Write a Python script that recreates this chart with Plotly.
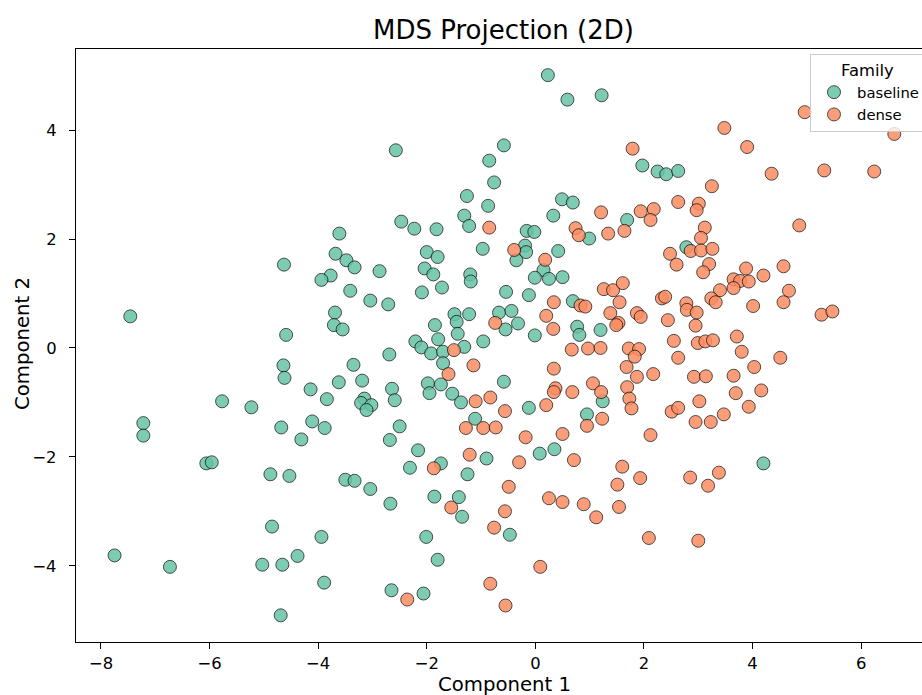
import plotly.graph_objects as go

# MDS 2-D embedding, one list pair per model family
baseline_x = [
    -2.57, -0.85, -0.58, -0.76, -1.26, -0.87, -1.31, -1.22, -2.47, -2.23,
    -1.82, -3.61, -0.97, -3.68, -3.48, -2.00, -1.80, 0.23, 0.59, 1.22,
    1.97, 2.25, 2.41, 2.63, 0.49, 0.69, 0.33, 1.69, -0.16, -0.02,
    0.99, -0.19, -0.17, 0.42, 2.78, -4.63, -7.46, -4.59, -4.64, -4.62,
    -5.77, -5.23, -7.22, -7.22, -4.68, -3.33, -3.77, -3.94, -2.87, -3.41,
    -3.04, -2.71, -3.69, -3.71, -3.55, -2.04, -1.88, -1.20, -1.19, -1.72,
    -2.09, -1.49, -1.45, -1.22, -1.85, -1.43, -1.79, -2.21, -2.10, -1.92,
    -1.70, -1.31, -0.96, -1.70, -2.69, -3.35, -3.62, -3.19, -4.14, -3.84,
    -3.15, -3.21, -3.02, -3.11, -2.64, -2.59, -1.98, -1.95, -1.74, -1.53,
    -1.37, -1.11, -4.11, -3.88, -2.50, -4.31, -2.68, -2.16, -0.35, 0.15,
    -0.01, 0.25, 0.50, -0.54, -0.12, -0.67, -0.44, -0.32, -0.55, -0.01,
    0.69, 0.77, 0.81, 1.20, 1.24, -0.58, -0.12, 0.95, -6.06, -5.96,
    -4.88, -4.53, -4.85, -7.75, -6.73, -5.03, -4.66, -4.69, -0.90, -1.74,
    -2.31, -1.25, -3.50, -3.33, -3.04, -2.67, -1.86, -1.41, -1.35, -3.94,
    -2.01, -4.38, -1.80, -3.89, -2.65, -2.06, 0.08, 0.35, -0.47, 4.20,
]
baseline_y = [
    3.63, 3.44, 3.72, 3.04, 2.79, 2.61, 2.43, 2.24, 2.32, 2.19,
    2.18, 2.10, 1.82, 1.73, 1.61, 1.76, 1.67, 5.01, 4.56, 4.64,
    3.35, 3.24, 3.19, 3.25, 2.73, 2.67, 2.43, 2.35, 2.15, 2.13,
    2.01, 1.88, 1.76, 1.78, 1.85, 1.53, 0.58, 0.24, -0.32, -0.55,
    -0.98, -1.09, -1.38, -1.61, -1.46, 1.48, 1.33, 1.25, 1.41, 1.05,
    0.87, 0.80, 0.65, 0.42, 0.34, 1.46, 1.35, 1.35, 1.22, 1.11,
    1.02, 0.62, 0.48, 0.62, 0.42, 0.26, 0.16, 0.12, 0.01, -0.10,
    -0.07, 0.02, 0.12, -0.28, -0.12, -0.31, -0.63, -0.60, -0.76, -0.94,
    -0.93, -1.01, -1.05, -1.14, -0.75, -0.96, -0.65, -0.83, -0.67, -0.84,
    -1.00, -1.30, -1.35, -1.47, -1.44, -1.68, -1.69, -1.88, 1.61, 1.43,
    1.29, 1.27, 1.30, 1.03, 0.97, 0.65, 0.68, 0.45, 0.34, 0.23,
    0.86, 0.39, 0.24, 0.33, -0.98, -0.62, -1.10, -1.22, -2.12, -2.10,
    -2.32, -2.35, -3.28, -3.81, -4.02, -3.98, -3.98, -4.91, -2.03, -2.12,
    -2.20, -2.32, -2.42, -2.44, -2.59, -2.86, -2.73, -2.74, -3.10, -3.47,
    -3.47, -3.82, -3.89, -4.31, -4.45, -4.51, -1.94, -1.86, -3.43, -2.12,
]

dense_x = [
    -0.85, 1.79, 3.25, 1.21, 1.94, 2.18, 2.12, 2.63, 3.01, 2.97,
    3.12, 3.05, 1.64, 1.34, 0.74, 0.80, -0.39, 0.18, 2.48, 2.86,
    3.05, 3.26, 4.96, 6.61, 3.48, 3.90, 4.35, 5.32, 6.24, 4.86,
    -0.74, -1.50, -1.14, -1.60, -1.10, -0.83, -0.56, -1.28, -0.96, -0.73,
    -1.21, 0.34, 0.20, 0.33, 0.83, 0.92, 0.67, 0.97, 1.20, 1.26,
    1.43, 1.61, 1.55, 1.38, 1.53, 1.49, 1.87, 1.94, 1.72, 1.91,
    1.83, 1.68, 1.87, 2.17, 2.33, 2.39, 2.44, 2.55, 2.63, 2.60,
    3.20, 3.09, 2.78, 2.79, 2.97, 2.95, 2.99, 3.13, 3.27, 2.92,
    3.14, 0.34, 0.37, 0.34, 0.68, 1.06, 1.21, 1.69, 1.73, 1.77,
    0.20, 1.23, 0.95, -0.18, 0.50, 2.12, 2.51, 2.63, 3.02, 2.95,
    3.23, 3.88, 4.20, 4.57, 3.65, 3.77, 3.93, 3.65, 3.40, 3.24,
    3.32, 4.67, 4.57, 4.01, 5.27, 5.47, 3.71, 3.80, 4.03, 4.51,
    3.65, 3.69, 4.16, 3.93, 3.47, -1.87, -1.55, -0.56, -0.76, -0.83,
    -2.36, -0.55, 0.71, -0.30, 1.60, 1.93, 1.51, 2.85, -0.49, 0.25,
    0.50, 0.89, 1.12, 1.54, 2.09, 3.00, 0.09, 3.38, 3.18,
]
dense_y = [
    2.21, 3.66, 2.97, 2.49, 2.51, 2.55, 2.35, 2.68, 2.65, 2.53,
    2.21, 2.02, 2.15, 2.10, 2.20, 2.07, 1.80, 1.62, 1.73, 1.78,
    1.79, 1.82, 4.33, 3.93, 4.04, 3.69, 3.20, 3.26, 3.24, 2.25,
    0.46, -0.04, -0.32, -0.48, -0.98, -0.91, -1.16, -1.47, -1.47, -1.46,
    -1.96, 0.84, 0.59, 0.35, 0.78, 0.76, -0.03, -0.01, 0.00, 1.08,
    1.06, 1.19, 0.84, 0.64, 0.46, 0.42, 0.64, 0.57, -0.01, -0.02,
    -0.16, -0.35, -0.53, -0.48, 0.91, 0.94, 0.51, 0.13, -0.18, 1.53,
    1.54, 1.39, 0.82, 0.70, 0.65, 0.41, 0.09, 0.12, 0.14, -0.53,
    -0.52, -0.38, -0.74, -0.81, -0.81, -0.65, -0.81, -0.72, -0.93, -1.11,
    -1.05, -1.30, -1.43, -1.64, -1.58, -1.60, -1.17, -1.10, -0.98, -1.36,
    -1.36, 1.46, 1.33, 1.50, 1.26, 1.23, 1.22, 1.10, 1.06, 0.91,
    0.84, 1.05, 0.84, 0.77, 0.61, 0.67, 0.21, -0.07, -0.35, -0.18,
    -0.51, -0.83, -0.78, -1.08, -1.22, -2.21, -2.93, -3.00, -3.30, -4.33,
    -4.62, -4.73, -2.06, -2.10, -2.18, -2.39, -2.51, -2.38, -2.55, -2.76,
    -2.83, -2.87, -3.11, -2.92, -3.49, -3.54, -4.02, -2.29, -2.53,
]

families = ["baseline", "dense"]
colors = {"baseline": "#66c2a5", "dense": "#fc8d62"}
points = {"baseline": (baseline_x, baseline_y), "dense": (dense_x, dense_y)}

FONT = "DejaVu Sans"

fig = go.Figure()
for fam in families:
    xs, ys = points[fam]
    fig.add_trace(go.Scatter(
        x=xs, y=ys, mode="markers", name=fam,
        marker=dict(size=13, color=colors[fam], opacity=0.85,
                    line=dict(color="black", width=0.8)),
    ))

axis_common = dict(
    showgrid=False, zeroline=False,
    showline=True, linecolor="black", linewidth=1.3,
    ticks="outside", ticklen=6, tickwidth=1.3, tickcolor="black",
    tickfont=dict(family=FONT, size=16.4, color="black"),
)

fig.update_layout(
    width=922, height=695,
    margin=dict(l=76, r=0, t=49, b=53, autoexpand=False),
    paper_bgcolor="white", plot_bgcolor="white",
    font=dict(family=FONT, color="black"),
    title=dict(text="MDS Projection (2D)", x=0.546, xref="container", xanchor="center",
               y=1 - 30 / 695, yref="container", yanchor="middle",
               font=dict(family=FONT, size=26, color="black")),
    xaxis=dict(range=[-8.46, 7.12], tickvals=[-8, -6, -4, -2, 0, 2, 4, 6],
               mirror=True, **axis_common),
    yaxis=dict(range=[-5.40, 5.49], tickvals=[-4, -2, 0, 2, 4],
               mirror=False, ticklabelstandoff=9, **axis_common),
    legend=dict(
        title=dict(text="Family", side="top center",
                   font=dict(family=FONT, size=16.4, color="black")),
        font=dict(family=FONT, size=14.8, color="black"),
        x=0.8676, xanchor="left", y=0.992, yanchor="top",
        bgcolor="rgba(255,255,255,0.8)", bordercolor="#cccccc", borderwidth=1,
        itemsizing="trace", itemwidth=36, tracegroupgap=0,
    ),
    showlegend=True,
    annotations=[
        dict(text="Component 1", xref="paper", yref="paper", x=0.507, y=-0.0725,
             xanchor="center", yanchor="middle", showarrow=False,
             font=dict(family=FONT, size=19.7, color="black")),
        dict(text="Component 2", xref="paper", yref="paper", x=-0.064, y=0.504,
             xanchor="center", yanchor="middle", textangle=-90, showarrow=False,
             font=dict(family=FONT, size=19.7, color="black")),
    ],
)

fig.write_html("out.html")
